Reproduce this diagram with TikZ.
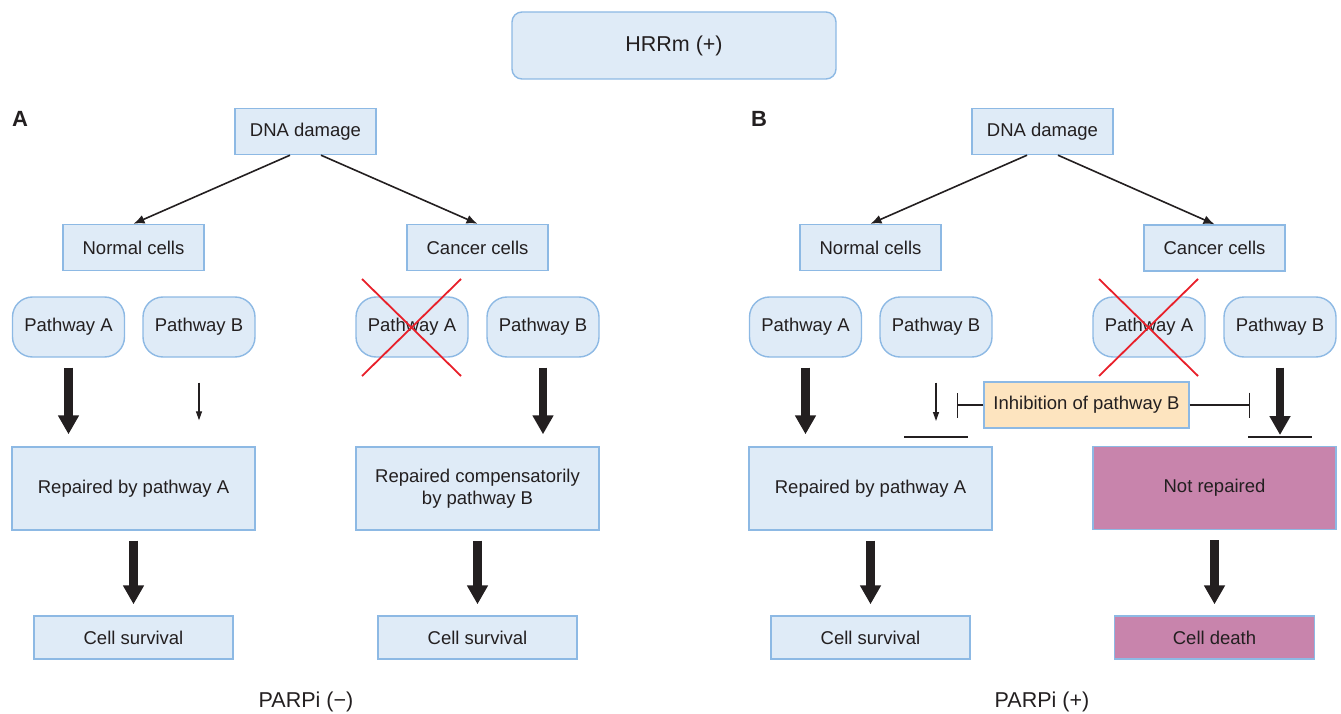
\documentclass[tikz,border=0pt]{standalone}
\usepackage{fontspec}
\setmainfont{Liberation Sans}
\usetikzlibrary{arrows.meta,calc}
\definecolor{bfill}{HTML}{DFEBF7}
\definecolor{bdraw}{HTML}{8DB9E4}
\definecolor{pfill}{HTML}{C884AC}
\definecolor{ofill}{HTML}{FDE4BF}
\definecolor{txt}{HTML}{231F20}
\definecolor{xred}{HTML}{E8202A}
\begin{document}
\begin{tikzpicture}[x=1pt,y=-1pt,
  font=\fontsize{18.5}{21.5}\selectfont, text=txt,
  box/.style={draw=bdraw, fill=bfill, line width=1.4pt, inner sep=0pt, align=center},
  pbox/.style={box, rounded corners=20pt, minimum width=112pt, minimum height=60pt},
  cbox/.style={box, minimum width=141pt, minimum height=46pt},
  rbox/.style={box, minimum width=243pt, minimum height=83pt},
  sbox/.style={box, minimum width=199pt, minimum height=43pt},
  pink/.style={fill=pfill},
  lbl/.style={font=\fontsize{22}{26}\selectfont\bfseries},
  biglbl/.style={font=\fontsize{21.5}{25}\selectfont},
  linkarr/.style={draw=txt, line width=1.6pt, -{Latex[length=11pt,width=9pt]}},
  bigarr/.style={draw=txt, line width=8.5pt, -{Triangle[width=20pt,length=19pt]}},
  smallarr/.style={draw=txt, line width=1.3pt, -{Triangle[width=6pt,length=9pt]}},
  barline/.style={draw=txt, line width=1.4pt},
  inhib/.style={draw=txt, line width=1.3pt, -{Bar[width=25pt]}},
  xcross/.style={draw=xred, line width=1.8pt}
]
\useasboundingbox (0,0) rectangle (1341,714);

% top
\node[box, biglbl, rounded corners=10pt, minimum width=324pt, minimum height=67pt] (hrr) at (674,45.5) {HRRm (+)};

% ---------- Panel A ----------
\node[lbl] (la) at (20,119) {A};
\node[cbox] (dnaA) at (305.5,131.5) {DNA damage};
\node[cbox] (ncA) at (133.5,247.5) {Normal cells};
\node[cbox] (ccA) at (477.5,247.5) {Cancer cells};
\draw[linkarr] ([xshift=-15.5pt]dnaA.south) -- (ncA.north);
\draw[linkarr] ([xshift=15.5pt]dnaA.south) -- (ccA.north);

\node[pbox] (paA) at (68.5,327) {Pathway A};
\node[pbox] (pbA) at (199,327) {Pathway B};
\node[pbox] (pacA) at (412,327) {Pathway A};
\node[pbox] (pbcA) at (543,327) {Pathway B};
\draw[xcross] (pacA.center) +(-50,-48) -- +(49,49);
\draw[xcross] (pacA.center) +(49,-48) -- +(-50,49);

\node[rbox] (repA) at (133.5,488.5) {Repaired by pathway A};
\node[rbox] (repcA) at (477.5,488.5) {Repaired compensatorily\\by pathway B};

\draw[bigarr] ([yshift=-10pt]paA.south) -- ($(paA.south |- repA.north)+(0,-12)$);
\draw[smallarr] ([yshift=-25pt]pbA.south) -- ($(pbA.south |- repA.north)+(0,-26)$);
\draw[bigarr] ([yshift=-10pt]pbcA.south) -- ($(pbcA.south |- repcA.north)+(0,-12)$);

\node[sbox] (csA) at (133.5,637.5) {Cell survival};
\node[sbox] (cscA) at (477.5,637.5) {Cell survival};
\draw[bigarr] ([yshift=-10pt]repA.south) -- ([yshift=11pt]csA.north);
\draw[bigarr] ([yshift=-10pt]repcA.south) -- ([yshift=11pt]cscA.north);

\node[biglbl] (parpA) at (306,702) {PARPi (−)};

% ---------- Panel B ----------
\node[lbl] (lb) at (759,119) {B};
\node[cbox] (dnaB) at (1042.5,131.5) {DNA damage};
\node[cbox] (ncB) at (870.5,247.5) {Normal cells};
\node[cbox] (ccB) at (1214.5,248) {Cancer cells};
\draw[linkarr] ([xshift=-15.5pt]dnaB.south) -- (ncB.north);
\draw[linkarr] ([xshift=15.5pt]dnaB.south) -- (ccB.north);

\node[pbox] (paB) at (805.5,327) {Pathway A};
\node[pbox] (pbB) at (936,327) {Pathway B};
\node[pbox] (pacB) at (1149,327) {Pathway A};
\node[pbox] (pbcB) at (1280,327) {Pathway B};
\draw[xcross] (pacB.center) +(-50,-48) -- +(49,49);
\draw[xcross] (pacB.center) +(49,-48) -- +(-50,49);

\node[rbox] (repB) at (870.5,488.5) {Repaired by pathway A};
\node[rbox, pink] (nrB) at (1214.5,488) {Not repaired};

\draw[bigarr] ([yshift=-10pt]paB.south) -- ($(paB.south |- repB.north)+(0,-12)$);

% inhibition
\node[box, fill=ofill, minimum width=205pt, minimum height=46pt] (inh) at (1086.5,405) {Inhibition of pathway B};
\coordinate (tl) at (957,405);
\coordinate (tr) at (1250,405);
\draw[inhib] (inh.west) -- (tl);
\draw[inhib] (inh.east) -- (tr);

\coordinate (bl1) at (904,437);
\coordinate (bl2) at (968,437);
\coordinate (br1) at (1248,437);
\coordinate (br2) at (1312,437);
\draw[barline] (bl1) -- (bl2);
\draw[barline] (br1) -- (br2);
\draw[smallarr] ([yshift=-25pt]pbB.south) -- ($(pbB.south |- bl1)+(0,-16)$);
\draw[bigarr] ([yshift=-10pt]pbcB.south) -- ($(pbcB.south |- br1)+(0,-2)$);

\node[sbox] (csB) at (870.5,637.5) {Cell survival};
\node[sbox, pink, minimum width=200pt] (cdB) at (1214.5,637.5) {Cell death};
\draw[bigarr] ([yshift=-10pt]repB.south) -- ([yshift=11pt]csB.north);
\draw[bigarr] ([yshift=-10pt]nrB.south) -- ($(nrB.south |- cdB.north)+(0,-11)$);

\node[biglbl] (parpB) at (1042,702) {PARPi (+)};
\end{tikzpicture}
\end{document}
